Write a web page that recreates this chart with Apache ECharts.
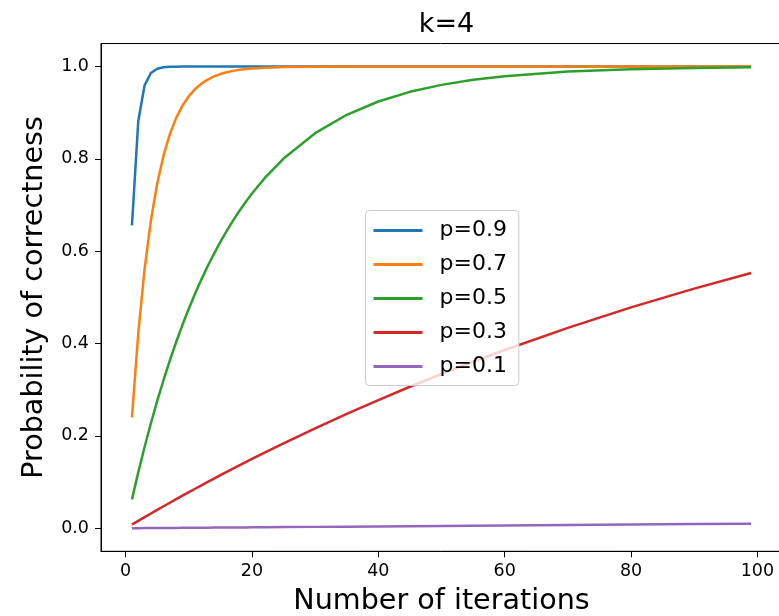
<!DOCTYPE html>
<html>
<head>
<meta charset="utf-8">
<script src="https://cdn.jsdelivr.net/npm/echarts@6/dist/echarts.min.js"></script>
<style>html,body{margin:0;padding:0;background:#fff}#c{width:779px;height:616px}</style>
</head>
<body>
<div id="c"></div>
<script>
const iterations = [1,2,3,4,5,6,7,8,9,10,11,12,13,14,15,16,17,18,19,20,22,25,30,35,40,45,50,55,60,70,80,90,99];
const p09 = [0.6561,0.8817,0.9593,0.9860,0.9952,0.9983,0.9994,0.9998,0.9999,1,1,1,1,1,1,1,1,1,1,1,1,1,1,1,1,1,1,1,1,1,1,1,1];
const p07 = [0.2401,0.4226,0.5612,0.6666,0.7466,0.8074,0.8537,0.8888,0.9155,0.9358,0.9512,0.9629,0.9718,0.9786,0.9837,0.9876,0.9906,0.9929,0.9946,0.9959,0.9976,0.9990,0.9997,0.9999,1,1,1,1,1,1,1,1,1];
const p05 = [0.0625,0.1211,0.1760,0.2275,0.2758,0.3211,0.3635,0.4033,0.4406,0.4755,0.5083,0.5391,0.5679,0.5949,0.6202,0.6439,0.6662,0.6870,0.7066,0.7249,0.7582,0.8008,0.8557,0.8955,0.9243,0.9452,0.9603,0.9713,0.9792,0.9891,0.9943,0.9970,0.9983];
const p03 = [0.0081,0.0161,0.0241,0.0320,0.0398,0.0476,0.0553,0.0630,0.0706,0.0781,0.0856,0.0930,0.1003,0.1076,0.1149,0.1220,0.1291,0.1362,0.1432,0.1501,0.1638,0.1840,0.2165,0.2477,0.2777,0.3065,0.3341,0.3606,0.3861,0.4341,0.4784,0.5191,0.5530];
const p01 = [0.0001,0.0002,0.0003,0.0004,0.0005,0.0006,0.0007,0.0008,0.0009,0.0010,0.0011,0.0012,0.0013,0.0014,0.0015,0.0016,0.0017,0.0018,0.0019,0.0020,0.0022,0.0025,0.0030,0.0035,0.0040,0.0045,0.0050,0.0055,0.0060,0.0070,0.0080,0.0090,0.0099];
const seriesNames = ['p=0.9','p=0.7','p=0.5','p=0.3','p=0.1'];
const seriesValues = [p09,p07,p05,p03,p01];
const colors = ['#1f77b4','#ff7f0e','#2ca02c','#d62728','#9467bd'];
const xTicks = [0,20,40,60,80,100];
const yTicks = [0,0.2,0.4,0.6,0.8,1.0];

const font = 'DejaVu Sans';
const chart = echarts.init(document.getElementById('c'), null, {renderer:'canvas'});
chart.setOption({
  animation:false,
  backgroundColor:'#fff',
  color:colors,
  title:{text:'k=4', left:441.5, textAlign:'center', top:6, textStyle:{fontFamily:font, fontSize:27, fontWeight:'normal', color:'#000'}},
  grid:{left:101, right:-3, top:43.5, bottom:64.7, outerBoundsMode:'none', containLabel:false, show:true, borderColor:'#000', borderWidth:1, backgroundColor:'transparent'},
  legend:{
    orient:'vertical', left:365.5, top:210.5, itemWidth:49, itemHeight:3, itemGap:12, icon:'rect',
    padding:[9,12,8,8], backgroundColor:'rgba(255,255,255,0.8)', borderColor:'#ccc', borderWidth:1, borderRadius:4,
    textStyle:{fontFamily:font, fontSize:22, color:'#000', padding:[0,0,0,12]},
    data:seriesNames
  },
  xAxis:{
    type:'value', min:-3.9, max:103.9,
    name:'Number of iterations', nameLocation:'middle', nameGap:36,
    nameTextStyle:{fontFamily:font, fontSize:28.6, color:'#000'},
    axisLine:{show:true, onZero:false, lineStyle:{color:'#000', width:1}},
    axisTick:{show:true, length:6, lineStyle:{color:'#000'}, customValues:xTicks},
    axisLabel:{fontFamily:font, fontSize:17.5, color:'#000', margin:11, customValues:xTicks},
    splitLine:{show:false}
  },
  yAxis:{
    type:'value', min:-0.0499, max:1.0499,
    name:'Probability of correctness', nameLocation:'middle', nameGap:52,
    nameTextStyle:{fontFamily:font, fontSize:28.6, color:'#000'},
    axisLine:{show:true, onZero:false, lineStyle:{color:'#000', width:1}},
    axisTick:{show:true, length:6, lineStyle:{color:'#000'}, customValues:yTicks},
    axisLabel:{fontFamily:font, fontSize:17.5, color:'#000', margin:12, customValues:yTicks, formatter:v=>v.toFixed(1)},
    splitLine:{show:false}
  },
  series:seriesNames.map((n,i)=>({
    name:n, type:'line', symbol:'none', showSymbol:false,
    lineStyle:{width:2.5, color:colors[i]}, itemStyle:{color:colors[i]},
    data:iterations.map((x,j)=>[x, seriesValues[i][j]])
  }))
});
</script>
</body>
</html>
